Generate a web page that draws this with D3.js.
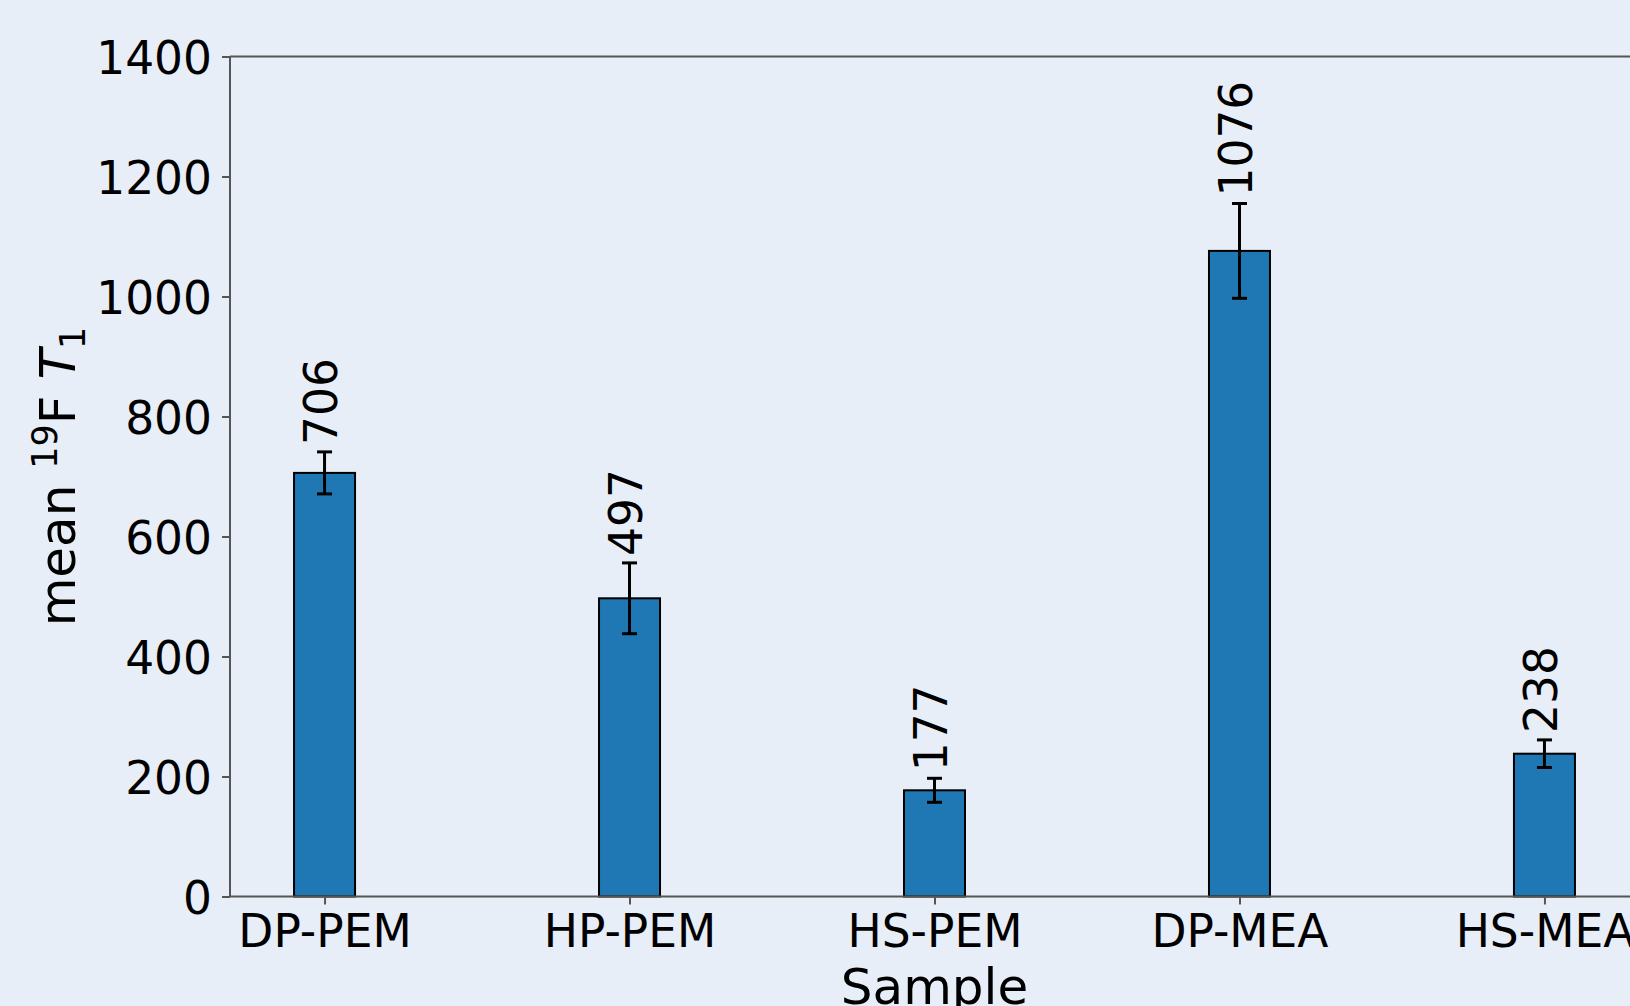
<!DOCTYPE html>
<html>
<head>
<meta charset="utf-8">
<script src="https://cdn.jsdelivr.net/npm/d3@7"></script>
<style>
  html, body { margin: 0; padding: 0; background: #e8eef8; overflow: hidden; }
  svg { display: block; }
  text { font-family: "DejaVu Sans", sans-serif; fill: #000; }
</style>
</head>
<body>
<svg id="chart" width="1630" height="1006"></svg>
<script>
const categories = ["DP-PEM", "HP-PEM", "HS-PEM", "DP-MEA", "HS-MEA"];
const meanT1 = [706, 497, 177, 1076, 238];
const errT1 = [35, 59, 20, 79, 23];
const yTicks = [0, 200, 400, 600, 800, 1000, 1200, 1400];

(function () {
const W = 1630, H = 1006;
const pL = 230, pT = 56.5, pB = 896.5, pR = 1639;
const fs = 45.5;
const fsLab = 50;

const svg = d3.select("#chart");
svg.append("rect").attr("width", W).attr("height", H).attr("fill", "#e8eef8");

const x = d3.scaleLinear().domain([-0.31, categories.length - 1 + 0.31]).range([pL, pR]);
const y = d3.scaleLinear().domain([0, 1400]).range([pB, pT]);
const barW = 0.2;

const g = svg.append("g");

// bars
g.selectAll("rect.bar").data(meanT1).join("rect")
  .attr("class", "bar")
  .attr("x", (d, i) => x(i - barW / 2))
  .attr("width", (d, i) => x(i + barW / 2) - x(i - barW / 2))
  .attr("y", d => y(d))
  .attr("height", d => y(0) - y(d))
  .attr("fill", "#1f77b4")
  .attr("stroke", "#000")
  .attr("stroke-width", 2);

// error bars
const eg = g.selectAll("g.err").data(meanT1).join("g").attr("class", "err");
eg.append("line")
  .attr("x1", (d, i) => x(i)).attr("x2", (d, i) => x(i))
  .attr("y1", (d, i) => y(d - errT1[i])).attr("y2", (d, i) => y(d + errT1[i]))
  .attr("stroke", "#000").attr("stroke-width", 3);
[-1, 1].forEach(s => {
  eg.append("line")
    .attr("x1", (d, i) => x(i) - 7.5).attr("x2", (d, i) => x(i) + 7.5)
    .attr("y1", (d, i) => y(d + s * errT1[i])).attr("y2", (d, i) => y(d + s * errT1[i]))
    .attr("stroke", "#000").attr("stroke-width", 3);
});

// value labels
g.selectAll("text.val").data(meanT1).join("text")
  .attr("class", "val")
  .attr("transform", (d, i) => `translate(${x(i) + 12.5},${y(d + errT1[i]) - 7}) rotate(-90)`)
  .attr("text-anchor", "start")
  .attr("font-size", fs)
  .text(d => d);

// axes
const yAxis = d3.axisLeft(y).tickValues(yTicks).tickSize(8).tickPadding(10).tickFormat(d3.format("d"));
const ya = svg.append("g").attr("transform", `translate(${pL},0)`).call(yAxis);
ya.select(".domain").remove();
ya.selectAll(".tick line").attr("stroke", "#555").attr("stroke-width", 2);
ya.selectAll(".tick text").attr("font-size", fs).attr("font-family", "DejaVu Sans").attr("fill", "#000")
  .attr("x", -18).attr("dy", null).attr("y", 16.6);

const xAxis = d3.axisBottom(x).tickValues(d3.range(categories.length)).tickSize(8).tickFormat(i => categories[i]);
const xa = svg.append("g").attr("transform", `translate(0,${pB})`).call(xAxis);
xa.select(".domain").remove();
xa.selectAll(".tick line").attr("stroke", "#555").attr("stroke-width", 2);
xa.selectAll(".tick text").attr("font-size", fs).attr("font-family", "DejaVu Sans").attr("fill", "#000")
  .attr("dy", null).attr("y", 50);

// spines
const sp = svg.append("g").attr("stroke", "#555").attr("stroke-width", 2).attr("fill", "none");
sp.append("line").attr("x1", pL).attr("x2", pL).attr("y1", pT).attr("y2", pB);
sp.append("line").attr("x1", pL).attr("x2", pR).attr("y1", pB).attr("y2", pB);
sp.append("line").attr("x1", pL).attr("x2", pR).attr("y1", pT).attr("y2", pT);
sp.append("line").attr("x1", pR).attr("x2", pR).attr("y1", pT).attr("y2", pB);

// axis labels
svg.append("text").attr("x", (pL + pR) / 2).attr("y", 1004)
  .attr("text-anchor", "middle").attr("font-size", fsLab).text("Sample");

const yl = svg.append("text")
  .attr("transform", `translate(75,${(pT + pB) / 2}) rotate(-90)`)
  .attr("text-anchor", "middle").attr("font-size", fsLab);
yl.append("tspan").text("mean ");
yl.append("tspan").attr("font-size", fsLab * 0.7).attr("dy", -18).text("19");
yl.append("tspan").attr("dy", 18).text("F ");
yl.append("tspan").attr("font-style", "italic").text("T");
yl.append("tspan").attr("font-size", fsLab * 0.7).attr("dy", 10).text("1");
})();
</script>
</body>
</html>
